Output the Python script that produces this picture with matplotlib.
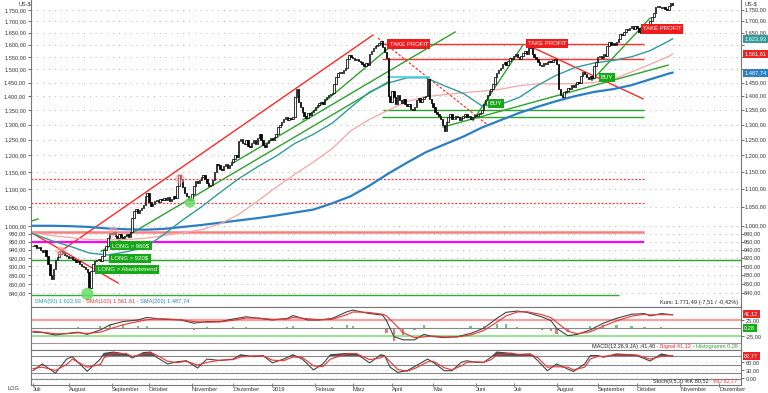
import numpy as np
import pandas as pd
import matplotlib
matplotlib.use('Agg')
import matplotlib.pyplot as plt
from matplotlib.ticker import FixedLocator, FuncFormatter, NullLocator

plt.rcParams['font.family'] = ['Liberation Sans', 'DejaVu Sans']

# daily closes (US-$), first trading day 2018-07-05
closes = [
    948, 952, 944, 946, 940, 935, 938, 925, 905, 880,
    870, 895, 915, 922, 930, 936, 932, 928, 925, 920,
    922, 918, 915, 910, 912, 905, 900, 898, 895, 888,
    852, 890, 905, 912, 915, 918, 912, 925, 940, 950,
    968, 982, 978, 985, 975, 970, 980, 972, 968, 975,
    978, 972, 985, 1020, 1040, 1045, 1035, 1042, 1048, 1055,
    1080, 1088, 1065, 1052, 1058, 1066, 1070, 1064, 1072, 1068,
    1075, 1070, 1078, 1066, 1072, 1080, 1076, 1110, 1142, 1130,
    1105, 1088, 1080, 1072, 1068, 1085, 1110, 1122, 1118, 1125,
    1135, 1140, 1128, 1118, 1108, 1112, 1125, 1150, 1175, 1170,
    1160, 1155, 1168, 1175, 1162, 1170, 1180, 1190, 1200, 1196,
    1245, 1252, 1240, 1235, 1248, 1230, 1226, 1240, 1250, 1236,
    1255, 1268, 1250, 1232, 1226, 1240, 1250, 1255, 1248, 1258,
    1270, 1292, 1300, 1310, 1318, 1325, 1315, 1322, 1318, 1326,
    1395, 1425, 1380, 1360, 1345, 1330, 1322, 1340, 1332, 1345,
    1352, 1360, 1368, 1375, 1380, 1372, 1388, 1395, 1402, 1408,
    1412, 1445, 1470, 1485, 1492, 1488, 1498, 1505, 1540, 1558,
    1550, 1545, 1538, 1542, 1535, 1528, 1520, 1515, 1525, 1518,
    1560, 1575, 1585, 1595, 1600, 1605, 1615, 1590, 1570, 1545,
    1400, 1380, 1420, 1395, 1370, 1405, 1385, 1375, 1390, 1372,
    1365, 1370, 1355, 1350, 1360, 1385, 1392, 1380, 1388, 1395,
    1400, 1465, 1390, 1375, 1360, 1345, 1335, 1328, 1320, 1300,
    1280, 1310, 1325, 1335, 1320, 1318, 1330, 1326, 1315, 1322,
    1328, 1335, 1325, 1330, 1320, 1326, 1332, 1328, 1335, 1340,
    1352, 1370, 1385, 1405, 1418, 1425, 1445, 1470, 1485, 1498,
    1505, 1520, 1528, 1518, 1535, 1545, 1540, 1552, 1560, 1548,
    1540, 1555, 1565, 1575, 1560, 1598, 1585, 1560, 1548, 1540,
    1530, 1518, 1512, 1525, 1520, 1528, 1535, 1530, 1538, 1540,
    1520, 1425, 1405, 1395, 1415, 1420, 1430, 1425, 1440, 1435,
    1445, 1452, 1448, 1475, 1490, 1482, 1470, 1465, 1475, 1468,
    1512, 1530, 1548, 1555, 1545, 1560, 1552, 1595, 1610, 1600,
    1605, 1598, 1612, 1625, 1645, 1640, 1652, 1665, 1660, 1672,
    1678, 1665, 1680, 1672, 1655, 1648, 1670, 1685, 1678, 1688,
    1700, 1718, 1735, 1762, 1770, 1765, 1758, 1762, 1755, 1748,
    1768, 1780, 1771.49,
]

# moving averages, read every 10 trading days
ma_days = list(range(0, 341, 10)) + [342]
sma50 = [980, 962, 948, 932, 927, 935, 945, 978, 1015, 1050, 1090, 1130,
         1165, 1198, 1238, 1268, 1305, 1360, 1415, 1448, 1468, 1468, 1438,
         1410, 1365, 1370, 1395, 1440, 1478, 1508, 1525, 1535, 1550, 1575,
         1615, 1623.93]
sma100 = [982, 975, 970, 965, 964, 965, 968, 975, 982, 990, 1005, 1030,
          1066, 1105, 1143, 1180, 1222, 1280, 1318, 1350, 1380, 1398, 1405,
          1412, 1418, 1425, 1438, 1445, 1445, 1446, 1450, 1462, 1490, 1520,
          1552, 1561.61]
sma200 = [1000, 1000, 999, 997, 993, 991, 990, 992, 997, 1002, 1008, 1014,
          1020, 1027, 1035, 1043, 1060, 1080, 1110, 1145, 1178, 1210, 1235,
          1260, 1290, 1315, 1340, 1362, 1382, 1400, 1415, 1425, 1440, 1462,
          1484, 1487.74]

# MACD(12,26,9)
macd_days = [0, 5, 12, 18, 24, 29, 36, 41, 48, 56, 61, 68, 79, 86, 93, 100,
             107, 114, 121, 128, 136, 139, 147, 153, 160, 168, 171, 179, 187,
             189, 193, 198, 204, 209, 214, 220, 227, 234, 241, 248, 253, 259,
             264, 272, 277, 280, 286, 291, 298, 305, 312, 320, 327, 330, 336,
             342]
macd = [-13, -14, -22, -17, -13, -20, -6, 9, 20, 25, 33, 28, 25, 15, 20, 20,
        28, 35, 30, 25, 30, 39, 25, 25, 30, 51, 56, 46, 40, 23, -27, -37,
        -37, -20, -27, -30, -27, -17, -1, 30, 49, 53, 49, 35, 23, -1, -24,
        -20, -6, 15, 30, 43, 45, 38, 45, 41.40]
signal = [-10, -13, -18, -18, -15, -17, -13, -3, 10, 20, 26, 29, 26, 20, 18,
          19, 24, 31, 31, 27, 28, 33, 29, 26, 27, 42, 50, 49, 43, 38, 15, -15,
          -30, -28, -25, -28, -28, -22, -8, 18, 38, 50, 51, 42, 32, 18, -10,
          -18, -12, 6, 22, 37, 43, 41, 42, 41.12]

# Stochastik(9,5,3)
stoch_days = [0, 5, 12, 18, 21, 29, 36, 38, 43, 50, 53, 59, 63, 66, 72, 77,
              82, 88, 93, 100, 107, 111, 118, 123, 128, 134, 139, 144, 150,
              155, 159, 168, 173, 180, 186, 188, 191, 195, 200, 205, 211, 214,
              220, 224, 229, 232, 237, 241, 245, 248, 256, 259, 266, 270, 275,
              280, 286, 289, 295, 298, 302, 305, 312, 320, 323, 330, 336, 342]
stoch_k = [27, 52, 18, 70, 79, 25, 70, 91, 96, 88, 74, 94, 96, 77, 52, 60, 64,
           37, 70, 65, 70, 86, 79, 83, 56, 70, 86, 70, 30, 52, 86, 91, 89, 56,
           86, 83, 40, 21, 27, 46, 70, 58, 27, 27, 58, 64, 58, 58, 77, 96, 91,
           86, 89, 64, 27, 52, 33, 24, 52, 83, 83, 77, 89, 86, 83, 63, 89,
           80.52]
stoch_d = [35, 40, 28, 50, 70, 40, 50, 75, 92, 90, 80, 88, 94, 85, 62, 57, 62,
           48, 58, 66, 68, 78, 82, 82, 66, 64, 78, 76, 45, 42, 70, 90, 90, 68,
           75, 82, 60, 32, 25, 38, 60, 62, 38, 30, 45, 58, 60, 58, 68, 85, 92,
           88, 88, 75, 40, 42, 40, 30, 40, 70, 80, 80, 85, 86, 85, 70, 80,
           82.77]

month_names = {1: '2019', 2: 'Februar', 3: 'März', 4: 'April', 5: 'Mai',
               6: 'Juni', 7: 'Juli', 8: 'August', 9: 'September',
               10: 'Oktober', 11: 'November', 12: 'Dezember'}


def de(v, d=2):
    s = f"{v:,.{d}f}"
    return s.replace(',', 'X').replace('.', ',').replace('X', '.')


def chain(axis, x, y, pieces, fs, ha='left'):
    # texts written one after the other, starting left or ending right
    items = pieces if ha == 'left' else pieces[::-1]
    anchor = (1, 0) if ha == 'left' else (0, 0)
    txt, col = items[0]
    prev = axis.text(x, y, txt, transform=axis.transAxes, ha=ha, va='bottom',
                     fontsize=fs, color=col, zorder=7)
    for txt, col in items[1:]:
        prev = axis.annotate(txt, xy=anchor, xycoords=prev, ha=ha, va='bottom',
                             fontsize=fs, color=col, zorder=7)


W, H = 768, 393
fig = plt.figure(figsize=(W / 100, H / 100), dpi=100)
L, R = 31 / W, 710 / W
ax = fig.add_axes([L, (H - 307) / H, R, 307 / H])
ax2 = fig.add_axes([L, (H - 350) / H, R, 43 / H])
ax3 = fig.add_axes([L, (H - 385) / H, R, 35 / H])

all_days = pd.bdate_range('2018-07-05', '2019-12-31')
n = len(closes)
x = np.arange(n)
c = np.array(closes, dtype=float)
o = np.r_[c[0], c[:-1]]
up = c >= o
x0, x1 = -1.07, 378.6
lab_fs = 4.1

# ---------- main panel ----------
ax.set_yscale('log')
ax.set_xlim(x0, x1)
ax.set_ylim(810.1, 1796)
yt = [840, 860, 880, 900, 920, 940, 960, 980, 1000] + list(range(1050, 1751, 50))
ax.yaxis.set_major_locator(FixedLocator(yt))
ax.yaxis.set_minor_locator(NullLocator())
ax.yaxis.set_major_formatter(FuncFormatter(lambda v, p: de(v)))
ax.tick_params(axis='y', which='major', labelsize=lab_fs, colors='#333333',
               length=2, width=0.5, right=True, labelright=False, pad=1.5)
ax.tick_params(axis='x', bottom=False, labelbottom=False)
ax.grid(axis='y', color='#b8b8b8', linestyle=(0, (1, 5)), linewidth=0.7)
ax.spines['top'].set_visible(False)
for s in ['left', 'right', 'bottom']:
    ax.spines[s].set_color('#777777')
    ax.spines[s].set_linewidth(0.8)
ytr = ax.get_yaxis_transform()
for v in yt:
    if v in (1600, 1550, 1500):  # hidden behind the value tags
        continue
    ax.text(1.0045, v, de(v), transform=ytr, ha='left', va='center',
            fontsize=lab_fs, color='#333333', clip_on=False)

# horizontal levels
ax.hlines(985, x0, 326.7, color='#f58080', lw=1.8, zorder=2)
ax.hlines(958, x0, 326.7, color='#ff00ff', lw=1.6, zorder=2)
ax.hlines([1130, 1062], x0, 327, color='#ff3030', lw=0.9,
          linestyles=(0, (1.5, 1.5)), zorder=2)
ax.hlines(915, x0, x1, color='#2ea02e', lw=1.0, zorder=2)
ax.hlines(836, x0, 313.4, color='#3aa53a', lw=1.0, zorder=2)
ax.hlines([1352, 1325], [187.2, 186.6], 326.7, color='#2ea02e', lw=1.0, zorder=2)
ax.hlines([1602, 1540], [185.6, 186.6], 326.7, color='#ff3030', lw=1.0, zorder=2)

# trend lines
red_lines = [((-1.07, 983), (45.5, 862)), ((13.4, 932), (181.8, 1640)),
             ((267.4, 1587), (326.2, 1390))]
for (a, b) in red_lines:
    ax.plot([a[0], b[0]], [a[1], b[1]], color='#ff2a2a', lw=1.0, zorder=3)
ax.plot([184.5, 243.3], [1627, 1298], color='#ff3030', lw=0.9,
        linestyle=(0, (2, 1.5)), zorder=3)
green_lines = [((36.4, 936), (189.8, 1452)), ((107, 1177), (225.7, 1653)),
               ((144.4, 1316), (190.9, 1590)), ((219.3, 1292), (339.6, 1517)),
               ((235.3, 1314), (262, 1598)), ((298.9, 1458), (330, 1714)),
               ((-1.07, 1012), (2.7, 1018))]
for (a, b) in green_lines:
    ax.plot([a[0], b[0]], [a[1], b[1]], color='#2ea02e', lw=1.0, zorder=3)

# moving averages
ax.plot(ma_days, sma200, color='#2a7fc4', lw=1.6, zorder=3)
ax.plot(ma_days, sma100, color='#f5a5a5', lw=0.9, zorder=3)
ax.plot(ma_days, sma50, color='#2f9b9b', lw=1.0, zorder=3)
ax.hlines(1469, 189.3, 212.3, color='#40d0e0', lw=1.2, zorder=3)

# candles
ax.bar(x, np.maximum(np.abs(c - o), 0.8), bottom=np.minimum(o, c), width=0.75,
       color=np.where(up, 'white', 'black'), edgecolor='black', linewidth=0.55,
       zorder=4)

# highlight circles
ax.scatter([29.1, 84], [838, 1062], s=[80, 55], color='#66dd66', alpha=0.85,
           zorder=5, edgecolors='none')
ax.scatter([15, 42.8, 78.6], [936, 985, 1130], s=50, color='#f4a0a0',
           alpha=0.6, zorder=5, edgecolors='none')


def tag(axis, xx, yy, txt, fc):
    axis.text(xx, yy, txt, ha='center', va='center', fontsize=4.3,
              color='white', zorder=6,
              bbox=dict(boxstyle='square,pad=0.35', fc=fc, ec='none'))


tag(ax, 201, 1602, 'TAKE PROFIT', '#ee1c1c')
tag(ax, 274.9, 1606, 'TAKE PROFIT', '#ee1c1c')
tag(ax, 336.4, 1666, 'TAKE PROFIT', '#ee1c1c')
tag(ax, 247.6, 1373, 'BUY', '#17a817')
tag(ax, 307, 1470, 'BUY', '#17a817')
tag(ax, 52.4, 950, 'LONG > 960$', '#17a817')
tag(ax, 51.9, 919, 'LONG > 920$', '#17a817')
tag(ax, 50.3, 892, 'LONG > Abwärtstrend', '#17a817')

# value tags on the right axis
for val, col in [(sma50[-1], '#2f9b9b'), (sma100[-1], '#ee2222'),
                 (sma200[-1], '#2a7fc4')]:
    ax.text(1.0045, val, de(val), transform=ytr, ha='left', va='center',
            fontsize=lab_fs, color='white', zorder=6, clip_on=False,
            bbox=dict(boxstyle='square,pad=0.25', fc=col, ec='none'))

chain(ax, 4 / 710, 3 / 307,
      [('SMA(50) ' + de(sma50[-1]), '#2f9b9b'),
       (' - SMA(100) ' + de(sma100[-1]), '#ee3333'),
       (' - SMA(200) ' + de(sma200[-1]), '#2a7fc4')], 4.1)
ax.text(0.996, 2 / 307, 'Kurs: 1.771,49 (-7,51 / -0,42%)', transform=ax.transAxes,
        fontsize=4.1, color='#222222', ha='right', va='bottom')
fig.text(19 / W, 1 - 4 / H, 'US-$', fontsize=lab_fs, color='#333333', va='center')
fig.text(745 / W, 1 - 4 / H, 'US-$', fontsize=lab_fs, color='#333333', va='center')

# ---------- MACD panel ----------
md = np.array(macd_days)
hist = np.array(macd) - np.array(signal)
ax2.set_xlim(x0, x1)
ax2.set_ylim(-68.75, 65.6)
ax2.axhline(25, color='#f5a0a0', lw=1.6)
ax2.axhline(0, color='#888888', lw=0.8)
ax2.axhline(-25, color='#80e080', lw=1.2)
ax2.axhline(-48, color='#999999', lw=0.8)
ax2.bar(md, hist, width=1.2, color=np.where(hist >= 0, '#55b855', '#e05a5a'),
        alpha=0.8)
ax2.plot(md, macd, color='#444444', lw=0.8)
ax2.plot(md, signal, color='#ee3333', lw=0.8)
ax2.set_yticks([25, -25])
ax2.yaxis.set_major_formatter(FuncFormatter(lambda v, p: de(v)))
ax2.tick_params(axis='y', labelsize=lab_fs, colors='#333333', length=2, width=0.5,
                left=False, labelleft=False, right=True, labelright=True, pad=1.5)
ax2.tick_params(axis='x', bottom=False, labelbottom=False)
ax2.grid(axis='y', color='#c0c0c0', linestyle=(0, (1, 5)), linewidth=0.6)
ytr2 = ax2.get_yaxis_transform()
ax2.text(1.0045, 44, de(signal[-1]), transform=ytr2, fontsize=lab_fs,
         color='white', va='center', clip_on=False, zorder=6,
         bbox=dict(boxstyle='square,pad=0.25', fc='#ee2222', ec='none'))
ax2.text(1.0045, 0, de(hist[-1]), transform=ytr2, fontsize=lab_fs, color='white',
         va='center', clip_on=False, zorder=6,
         bbox=dict(boxstyle='square,pad=0.25', fc='#17a817', ec='none'))
chain(ax2, 0.995, 1 / 43,
      [('MACD(12,26,9,JA) :' + de(macd[-1]), '#222222'),
       (' - Signal ' + de(signal[-1]), '#ee3333'),
       (' - Histogramm ' + de(hist[-1]), '#33a033')], 4.0, ha='right')

# ---------- Stochastik panel ----------
sd = np.array(stoch_days)
sk = np.array(stoch_k, dtype=float)
ax3.set_xlim(x0, x1)
ax3.set_ylim(-25.9, 103.7)
for lv in [80, 50, 20, -4]:
    ax3.axhline(lv, color='#888888', lw=0.8)
ax3.fill_between(sd, sk, 80, where=sk > 80, interpolate=True, color='#555555',
                 lw=0)
ax3.plot(sd, stoch_k, color='#444444', lw=0.8)
ax3.plot(sd, stoch_d, color='#ee3333', lw=0.8)
ax3.set_yticks([60, 30, 0])
ax3.yaxis.set_major_formatter(FuncFormatter(lambda v, p: de(v)))
ax3.tick_params(axis='y', labelsize=lab_fs, colors='#333333', length=2, width=0.5,
                left=False, labelleft=False, right=True, labelright=True, pad=1.5)
ax3.grid(axis='y', color='#c0c0c0', linestyle=(0, (1, 5)), linewidth=0.6)
ax3.text(1.0045, stoch_d[-1], de(stoch_d[-1]), transform=ax3.get_yaxis_transform(),
         fontsize=lab_fs, color='white', va='center', clip_on=False, zorder=6,
         bbox=dict(boxstyle='square,pad=0.25', fc='#ee2222', ec='none'))
chain(ax3, 0.995, 1.5 / 35,
      [('Stoch(9,5,3) %K ' + de(stoch_k[-1]), '#222222'),
       (' - %D ' + de(stoch_d[-1]), '#ee3333')], 4.0, ha='right')

# month ticks (trading day index of first day of month)
months = all_days.month
tick_pos = [0] + [i for i in range(1, len(all_days)) if months[i] != months[i - 1]]
tick_pos = [p for p in tick_pos if p < x1]
ax3.set_xticks(tick_pos)
ax3.set_xticklabels([month_names[months[p]] for p in tick_pos], ha='left',
                    fontsize=lab_fs, color='#333333')
ax3.tick_params(axis='x', length=2.5, width=0.5, pad=0.3, colors='#555555',
                direction='inout')
for lab in ax3.get_xticklabels():
    lab.set_color('#333333')

for a in (ax2, ax3):
    for s in a.spines.values():
        s.set_color('#777777')
        s.set_linewidth(0.8)

fig.text(8 / W, 1 - 389 / H, 'LOG', fontsize=lab_fs, color='#333333', va='center')

fig.savefig('out.png', dpi=100)
